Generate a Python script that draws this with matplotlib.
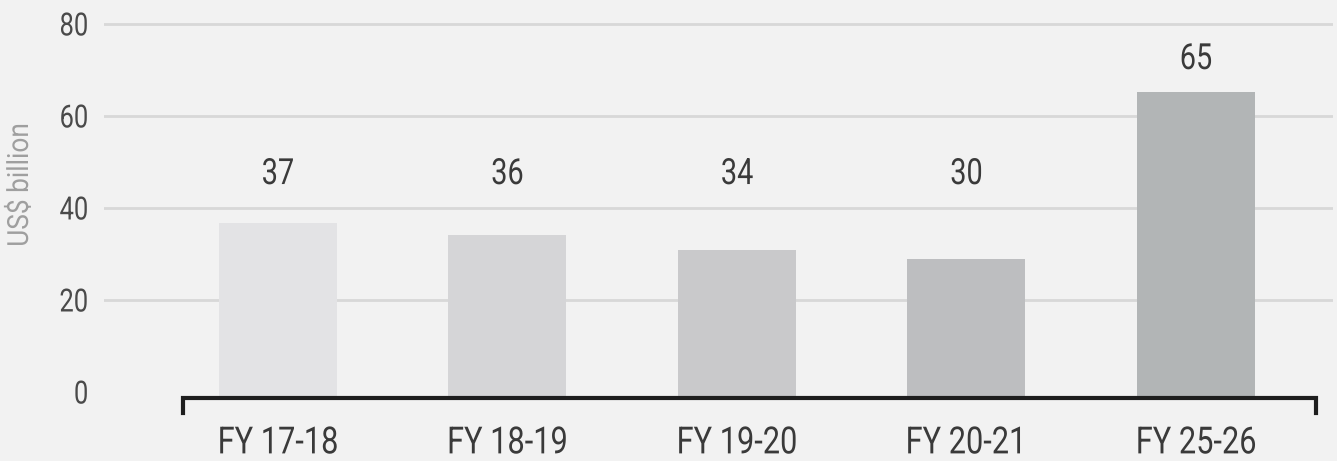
import matplotlib.pyplot as plt
from matplotlib.patheffects import AbstractPathEffect
from matplotlib.transforms import Affine2D

# data
years = ["FY 17-18", "FY 18-19", "FY 19-20", "FY 20-21", "FY 25-26"]
values = [36.7, 34.1, 30.9, 28.9, 65.2]
labels = ["37", "36", "34", "30", "65"]
label_y = [45.2, 45.2, 45.2, 45.2, 70.2]
yticks = [0, 20, 40, 60, 80]

bar_colors = ["#e3e3e5", "#d5d5d7", "#c9c9cb", "#bdbec0", "#b2b5b6"]
bg = "#f2f2f2"
plt.rcParams['font.family'] = ["Roboto", "DejaVu Sans"]


class Squeeze(AbstractPathEffect):
    """narrow the glyphs to look like a condensed face"""
    def __init__(self, s=0.8, anchor="center", axis="x"):
        super().__init__()
        self.s, self.anchor, self.axis = s, anchor, axis

    def draw_path(self, renderer, gc, tpath, affine, rgbFace=None):
        bb = tpath.get_extents(affine)
        if self.axis == "x":
            c = bb.x1 if self.anchor == "right" else (bb.x0 + bb.x1) / 2
            t = Affine2D().translate(-c, 0).scale(self.s, 1).translate(c, 0)
        else:
            c = (bb.y0 + bb.y1) / 2
            t = Affine2D().translate(0, -c).scale(1, self.s).translate(0, c)
        renderer.draw_path(gc, tpath, affine + t, rgbFace)


fig = plt.figure(figsize=(13.37, 4.61), dpi=100, facecolor=bg)
ax = fig.add_axes([104/1337, 1-398/461, 1229/1337, 398/461])
ax.set_facecolor(bg)

y0 = -1.3
x = list(range(len(years)))
ax.bar(x, [v - y0 for v in values], bottom=y0, width=0.514, color=bar_colors, zorder=2)

for xi, t, ly in zip(x, labels, label_y):
    ax.text(xi, ly, t, ha="center", va="baseline", fontsize=26, color="#3a3a3a",
            path_effects=[Squeeze(0.8)])

ax.set_xlim(-0.758, 4.597)
ax.set_ylim(y0, 85.2)
ax.set_yticks(yticks)
ax.set_yticklabels([str(t) for t in yticks], fontsize=23, color="#4a4a4a")
ax.set_xticks(x)
ax.set_xticklabels(years, fontsize=27, color="#3a3a3a", va="top")
for lab in ax.get_yticklabels():
    lab.set_path_effects([Squeeze(0.8, "right")])
for lab in ax.get_xticklabels():
    lab.set_path_effects([Squeeze(0.82)])
ax.tick_params(axis="both", length=0)
ax.tick_params(axis="y", pad=11)
ax.tick_params(axis="x", pad=19)

ax.grid(axis="y", color="#d8d8d8", linewidth=2, zorder=1)
ax.yaxis.get_gridlines()[0].set_visible(False)
ax.set_axisbelow(True)
for s in ax.spines.values():
    s.set_visible(False)

# bottom axis line with end hooks
ax.plot([-0.414, -0.414, 4.523, 4.523], [y0 - 3.3, y0, y0, y0 - 3.3],
        color="#1e1e1e", linewidth=3, clip_on=False, zorder=3, solid_joinstyle="miter")

fig.text(20/1337, 1-185/461, "US$ billion", rotation=90, ha="center", va="center",
         fontsize=21, color="#9f9f9f", path_effects=[Squeeze(0.9, axis="y")])

fig.savefig("out.png", dpi=100, facecolor=bg)
